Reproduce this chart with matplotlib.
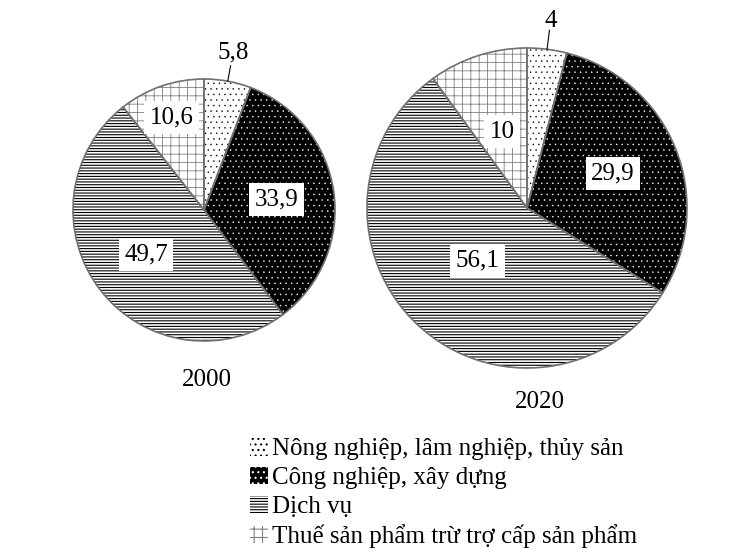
import numpy as np
import matplotlib
matplotlib.use("Agg")
import matplotlib.pyplot as plt
from matplotlib.patches import Patch

plt.rcParams['font.family'] = ['Liberation Serif', 'DejaVu Serif']
plt.rcParams['hatch.linewidth'] = 0.8

categories = ['Nông nghiệp, lâm nghiệp, thủy sản',
              'Công nghiệp, xây dựng',
              'Dịch vụ',
              'Thuế sản phẩm trừ trợ cấp sản phẩm']
years = ['2000', '2020']
values_2000 = [5.8, 33.9, 49.7, 10.6]
values_2020 = [4, 29.9, 56.1, 10]
labels_2000 = ['5,8', '33,9', '49,7', '10,6']
labels_2020 = ['4', '29,9', '56,1', '10']

# style per category: face, hatch, hatch colour, hatch width
faces = ['white', 'black', 'white', 'white']
hatches = ['...', '...', '------', '++']
hcolors = ['black', 'white', 'black', '#808080']
hwidths = [0.3, 0.3, 0.8, 0.6]

fig = plt.figure(figsize=(7.47, 5.6), dpi=100)
ax = fig.add_axes([0, 0, 1, 1])
ax.set_xlim(0, 747)
ax.set_ylim(0, 560)
ax.set_aspect('equal')
ax.axis('off')


def style(p, fc, h, hc, hw):
    p.set_facecolor(fc)
    p.set_hatch(h)
    p.set_edgecolor(hc)
    p.set_linewidth(0)
    if hasattr(p, 'set_hatch_linewidth'):
        p.set_hatch_linewidth(hw)


def draw_pie(vals, labs, center, r, dists):
    wedges, _ = ax.pie(vals, center=center, radius=r, startangle=90,
                       counterclock=False, frame=True)
    for w, fc, h, hc, hw in zip(wedges, faces, hatches, hcolors, hwidths):
        style(w, fc, h, hc, hw)
    # outlines
    ax.pie(vals, center=center, radius=r, startangle=90,
           counterclock=False, frame=True,
           wedgeprops=dict(fill=False, edgecolor='#707070', linewidth=1.2))
    for w, lab, d in zip(wedges, labs, dists):
        ang = np.deg2rad((w.theta1 + w.theta2) / 2)
        x = center[0] + d * r * np.cos(ang)
        y = center[1] + d * r * np.sin(ang)
        if d > 1:
            ax.plot([center[0] + 1.0 * r * np.cos(ang), center[0] + 1.12 * r * np.cos(ang)],
                    [center[1] + 1.0 * r * np.sin(ang), center[1] + 1.12 * r * np.sin(ang)],
                    color='black', lw=0.8)
            ax.text(x, y, lab, ha='center', va='center', fontsize=18)
        else:
            ax.text(x, y, lab, ha='center', va='center', fontsize=18,
                    bbox=dict(facecolor='white', edgecolor='none', pad=4))


draw_pie(values_2000, labels_2000, (204, 350), 131, [1.22, 0.56, 0.56, 0.75])
draw_pie(values_2020, labels_2020, (527, 352), 160, [1.18, 0.58, 0.45, 0.5])
ax.text(207, 180, years[0], ha='center', va='center', fontsize=18)
ax.text(540, 158, years[1], ha='center', va='center', fontsize=18)

ax.set_xlim(0, 747)
ax.set_ylim(0, 560)

handles = []
for fc, h, hc, hw in zip(faces, hatches, hcolors, hwidths):
    p = Patch()
    style(p, fc, h, hc, hw)
    handles.append(p)
leg = fig.legend(handles, categories, loc='upper left', bbox_to_anchor=(240 / 747, 1 - 428 / 560),
                 frameon=False, fontsize=18, handlelength=0.7, handleheight=0.7,
                 handletextpad=0.2, labelspacing=0.25, borderaxespad=0)

fig.savefig('out.png', dpi=100)
